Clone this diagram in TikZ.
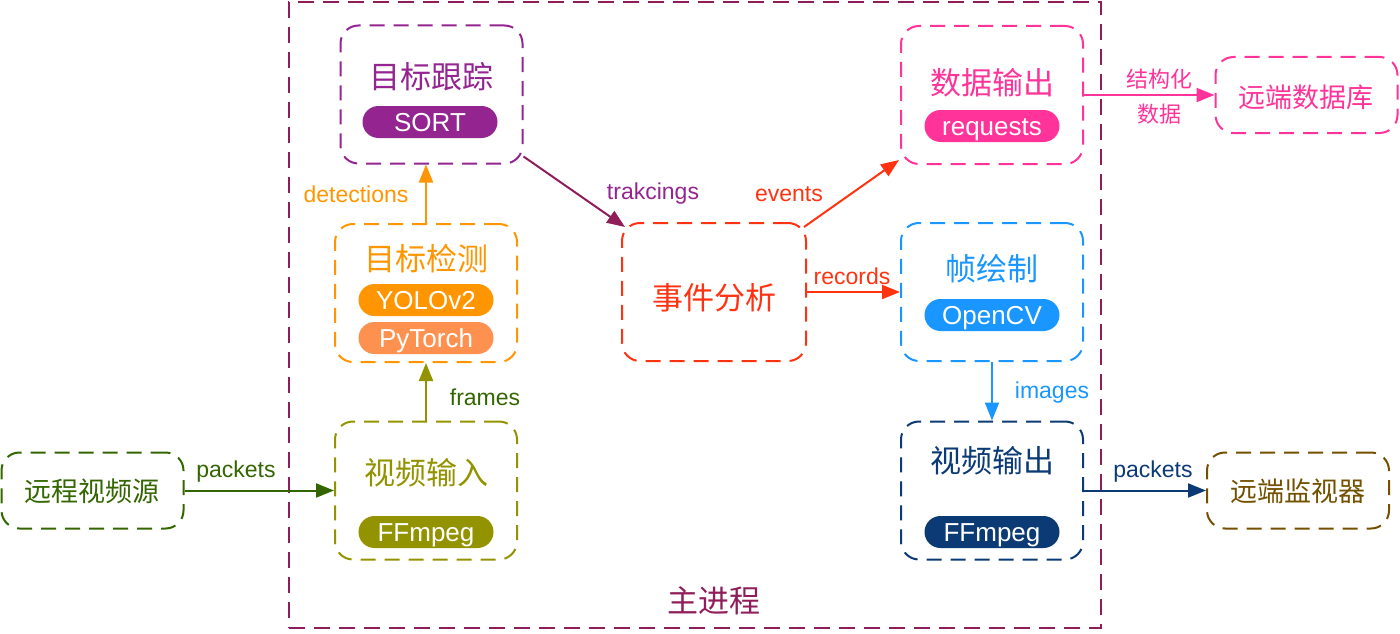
\documentclass[tikz,border=0pt]{standalone}
\usepackage{fontspec}
\setmainfont{Liberation Sans}
\newfontfamily\cjk{Noto Sans CJK SC}
\usetikzlibrary{arrows.meta,calc}
\definecolor{cmain}{HTML}{8F1D59}
\definecolor{ctrack}{HTML}{932490}
\definecolor{cdet}{HTML}{FF9500}
\definecolor{ctorch}{HTML}{FF9150}
\definecolor{cvin}{HTML}{939300}
\definecolor{cgreen}{HTML}{336600}
\definecolor{cevent}{HTML}{FF3311}
\definecolor{cdata}{HTML}{FF3399}
\definecolor{cdraw}{HTML}{1996FF}
\definecolor{cvout}{HTML}{0B3A75}
\definecolor{cmon}{HTML}{735000}
\tikzset{
  boxst/.style={draw, line width=2pt, dash pattern=on 15pt off 9pt, rounded corners=18pt, inner sep=0pt},
  bigbox/.style={boxst, minimum width=182pt, minimum height=138pt},
  smallbox/.style={boxst, minimum width=182pt, minimum height=76pt},
  title/.style={font=\cjk\fontsize{31}{31}\selectfont, inner sep=0pt},
  outtitle/.style={font=\cjk\fontsize{27}{27}\selectfont, inner sep=0pt},
  pill/.style={minimum width=135pt, minimum height=32pt, rounded corners=16pt, inner sep=0pt, text=white,
    font=\fontsize{26}{26}\selectfont, text height=18.5pt, text depth=0pt},
  lbl/.style={font=\fontsize{23}{23}\selectfont, inner sep=0pt},
  cjklbl/.style={font=\cjk\fontsize{22}{22}\selectfont, inner sep=0pt},
  arr/.style={line width=2pt, -{Triangle[length=18pt,width=14pt]}}
}
\begin{document}
\begin{tikzpicture}[x=1pt,y=-1pt]
\useasboundingbox (0,0) rectangle (1400,634);
% main container
\node[draw=cmain, line width=2pt, dash pattern=on 16pt off 9pt, minimum width=812pt, minimum height=626pt, inner sep=0pt] (main) at (695,315) {};
\node[title, text=cmain] (mainT) at (714,601) {主进程};
% target tracking
\node[bigbox, draw=ctrack] (track) at (431.5,94.5) {};
\node[title, text=ctrack] (trackT) at (431,77) {目标跟踪};
\node[pill, fill=ctrack] (sort) at (430,122) {SORT};
% detection
\node[bigbox, draw=cdet] (det) at (426,293) {};
\node[title, text=cdet] (detT) at (426,259) {目标检测};
\node[pill, fill=cdet] (yolo) at (426,300) {YOLOv2};
\node[pill, fill=ctorch] (torch) at (426,338) {PyTorch};
% video input
\node[bigbox, draw=cvin] (vin) at (426,490.5) {};
\node[title, text=cvin] (vinT) at (426,473) {视频输入};
\node[pill, fill=cvin] (ffin) at (426,532) {FFmpeg};
% remote video source
\node[smallbox, draw=cgreen] (src) at (92.5,490.5) {};
\node[outtitle, text=cgreen] (srcT) at (92,491) {远程视频源};
% event analysis
\node[bigbox, draw=cevent, minimum width=184pt] (event) at (714,292) {};
\node[title, text=cevent] (eventT) at (714,298) {事件分析};
% data output
\node[bigbox, draw=cdata] (dout) at (992,95) {};
\node[title, text=cdata] (doutT) at (992,83) {数据输出};
\node[pill, fill=cdata] (req) at (992,126) {requests};
% remote database
\node[smallbox, draw=cdata] (db) at (1306.5,95) {};
\node[outtitle, text=cdata] (dbT) at (1306,97) {远端数据库};
% frame drawing
\node[bigbox, draw=cdraw] (fdraw) at (992,292) {};
\node[title, text=cdraw] (fdrawT) at (992,269) {帧绘制};
\node[pill, fill=cdraw] (cv) at (992,315) {OpenCV};
% video output
\node[bigbox, draw=cvout] (vout) at (992,490.5) {};
\node[title, text=cvout] (voutT) at (992,461) {视频输出};
\node[pill, fill=cvout] (ffout) at (992,532) {FFmpeg};
% remote monitor
\node[smallbox, draw=cmon] (mon) at (1298,490.5) {};
\node[outtitle, text=cmon] (monT) at (1298,491) {远端监视器};
% connectors
\draw[arr, cgreen] (src.east) -- (src.east -| vin.west);
\node[lbl, text=cgreen] (l1) at (236,472) {packets};
\draw[arr, cvin] (vin.north) -- (vin.north |- det.south);
\node[lbl, text=cgreen] (l2) at (485,397) {frames};
\draw[arr, cdet] (det.north) -- (det.north |- track.south);
\node[lbl, text=cdet] (l3) at (356,194) {detections};
\draw[arr, cmain] ($(track.south east)+(0,-8)$) -- ($(event.north west)+(4,5)$);
\node[lbl, text=ctrack] (l4) at (653,194) {trakcings};
\draw[arr, cevent] ($(event.north east)+(-3,5)$) -- ($(dout.south west)+(-1,-5)$);
\node[lbl, text=cevent] (l5) at (789,194) {events};
\draw[arr, cevent] (event.east) -- (fdraw.west);
\node[lbl, text=cevent] (l6) at (852,276) {records};
\draw[arr, cdraw] (fdraw.south) -- (vout.north);
\node[lbl, text=cdraw] (l7) at (1052,393) {images};
\draw[arr, cvout] (vout.east) -- (mon.west);
\node[lbl, text=cvout] (l8) at (1153,472) {packets};
\draw[arr, cdata] (dout.east) -- (db.west);
\node[cjklbl, text=cdata] (l9) at (1159,79) {结构化};
\node[cjklbl, text=cdata] (l10) at (1159,114) {数据};
\end{tikzpicture}
\end{document}
